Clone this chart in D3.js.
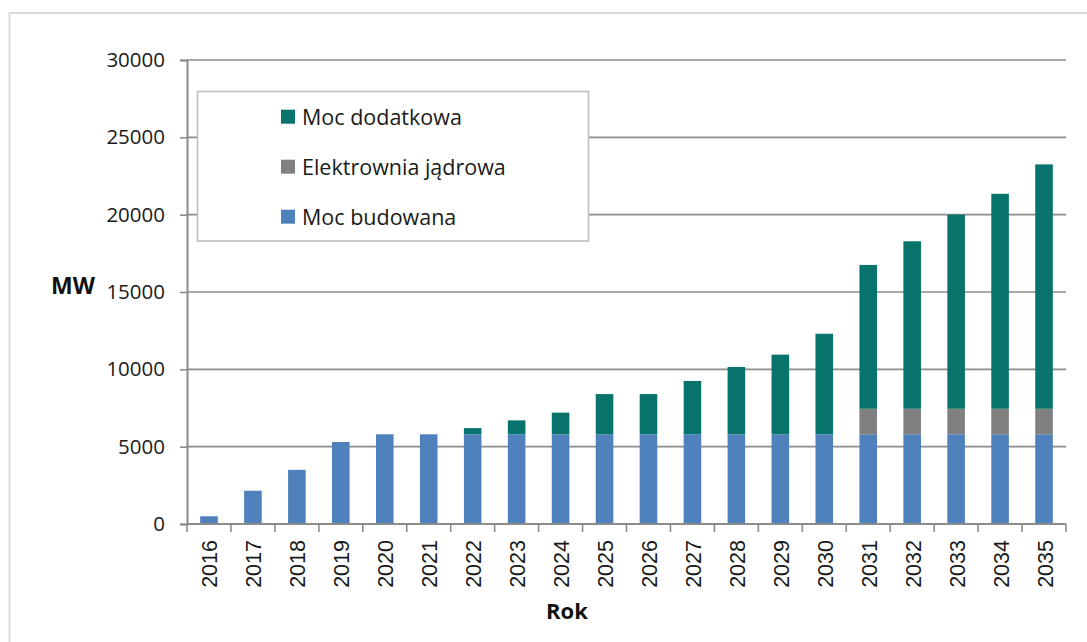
<!DOCTYPE html>
<html>
<head>
<meta charset="utf-8">
<script src="https://cdn.jsdelivr.net/npm/d3@7"></script>
<style>
  html, body { margin: 0; padding: 0; background: #ffffff; }
  svg { display: block; }
</style>
</head>
<body>
<svg id="chart" width="1087" height="642"></svg>
<script>
// Installed capacity by year (MW)
const years = ["2016","2017","2018","2019","2020","2021","2022","2023","2024","2025",
               "2026","2027","2028","2029","2030","2031","2032","2033","2034","2035"];
const mocBudowana        = [500, 2150, 3500, 5300, 5800, 5800, 5800, 5800, 5800, 5800,
                            5800, 5800, 5800, 5800, 5800, 5800, 5800, 5800, 5800, 5800];
const elektrowniaJadrowa = [0, 0, 0, 0, 0, 0, 0, 0, 0, 0,
                            0, 0, 0, 0, 0, 1650, 1650, 1650, 1650, 1650];
const mocDodatkowa       = [0, 0, 0, 0, 0, 0, 400, 900, 1400, 2600,
                            2600, 3450, 4350, 5150, 6500, 9300, 10830, 12550, 13900, 15800];
const yTicks = [0, 5000, 10000, 15000, 20000, 25000, 30000];

const seriesKeys   = ["budowana", "jadrowa", "dodatkowa"];
const seriesNames  = { budowana: "Moc budowana", jadrowa: "Elektrownia jądrowa", dodatkowa: "Moc dodatkowa" };
const seriesColors = { budowana: "#4f81bd", jadrowa: "#808080", dodatkowa: "#07736a" };

const rows = years.map((y, i) => ({
  year: y,
  budowana: mocBudowana[i],
  jadrowa: elektrowniaJadrowa[i],
  dodatkowa: mocDodatkowa[i]
}));

const svg = d3.select("#chart");
const plotLeft = 187, plotRight = 1066, plotTop = 60, plotBottom = 524;

// outer frame
svg.append("rect")
  .attr("x", 9.5).attr("y", 13).attr("width", 1100).attr("height", 700)
  .attr("fill", "none").attr("stroke", "#d9d9d9").attr("stroke-width", 2);

const x = d3.scaleBand().domain(years).range([plotLeft, plotRight]).paddingInner(0.6).paddingOuter(0.3);
const y = d3.scaleLinear().domain([0, 30000]).range([plotBottom, plotTop]);

// horizontal gridlines
svg.append("g").selectAll("line").data(yTicks.filter(t => t > 0)).join("line")
  .attr("x1", plotLeft).attr("x2", plotRight)
  .attr("y1", d => y(d)).attr("y2", d => y(d))
  .attr("stroke", "#8c8c8c").attr("stroke-width", 1.6);

// stacked bars
const stacked = d3.stack().keys(seriesKeys)(rows);
svg.append("g").selectAll("g").data(stacked).join("g")
  .attr("fill", d => seriesColors[d.key])
  .selectAll("rect").data(d => d.filter(p => p[1] > p[0])).join("rect")
  .attr("x", d => x(d.data.year))
  .attr("width", x.bandwidth())
  .attr("y", d => y(d[1]))
  .attr("height", d => y(d[0]) - y(d[1]));

// y axis
const yAxis = svg.append("g").attr("transform", `translate(${plotLeft},0)`)
  .call(d3.axisLeft(y).tickValues(yTicks).tickSize(7).tickPadding(15).tickFormat(d3.format("d")));
yAxis.select(".domain").attr("stroke", "#8c8c8c").attr("stroke-width", 2);
yAxis.selectAll(".tick line").attr("stroke", "#8c8c8c").attr("stroke-width", 1.6);
yAxis.selectAll(".tick text")
  .attr("font-family", "'Open Sans', sans-serif").attr("font-size", 20.5).attr("fill", "#1a1a1a");

// x axis baseline and boundary ticks
const gx = svg.append("g");
gx.append("line").attr("x1", plotLeft).attr("x2", plotRight).attr("y1", plotBottom).attr("y2", plotBottom)
  .attr("stroke", "#8c8c8c").attr("stroke-width", 2);
const half = (x.step() - x.bandwidth()) / 2;
const bounds = years.map(yr => x(yr) - half).concat([x(years[years.length - 1]) + x.bandwidth() + half]);
gx.selectAll("line.tk").data(bounds).join("line").attr("class", "tk")
  .attr("x1", d => d).attr("x2", d => d).attr("y1", plotBottom).attr("y2", plotBottom + 8)
  .attr("stroke", "#8c8c8c").attr("stroke-width", 1.6);
gx.selectAll("text").data(years).join("text")
  .attr("transform", d => `translate(${x(d) + x.bandwidth() / 2 + 1.5},${plotBottom + 16}) rotate(-90)`)
  .attr("text-anchor", "end").attr("dominant-baseline", "central")
  .attr("font-family", "'Liberation Sans', Arial, sans-serif").attr("font-size", 21.5).attr("fill", "#1a1a1a")
  .text(d => d);

// axis titles
svg.append("text").attr("x", 73).attr("y", 294).attr("text-anchor", "middle")
  .attr("font-family", "'Open Sans', sans-serif").attr("font-weight", "bold").attr("font-size", 23)
  .attr("fill", "#111").text("MW");
svg.append("text").attr("x", 567).attr("y", 619).attr("text-anchor", "middle")
  .attr("font-family", "'Open Sans', sans-serif").attr("font-weight", "bold").attr("font-size", 22)
  .attr("fill", "#111").text("Rok");

// legend
const legend = svg.append("g");
legend.append("rect").attr("x", 197.5).attr("y", 91.5).attr("width", 391).attr("height", 149.5)
  .attr("fill", "#ffffff").attr("stroke", "#bfbfbf").attr("stroke-width", 1.6);
const legendOrder = ["dodatkowa", "jadrowa", "budowana"];
const li = legend.selectAll("g.item").data(legendOrder).join("g").attr("class", "item")
  .attr("transform", (d, i) => `translate(281,${116.7 + i * 50})`);
li.append("rect").attr("x", 0).attr("y", -7).attr("width", 14).attr("height", 14)
  .attr("fill", d => seriesColors[d]);
li.append("text").attr("x", 21).attr("y", -0.5).attr("dominant-baseline", "central")
  .attr("font-family", "'Open Sans', sans-serif").attr("font-size", 21.5).attr("fill", "#1a1a1a")
  .text(d => seriesNames[d]);
</script>
</body>
</html>
